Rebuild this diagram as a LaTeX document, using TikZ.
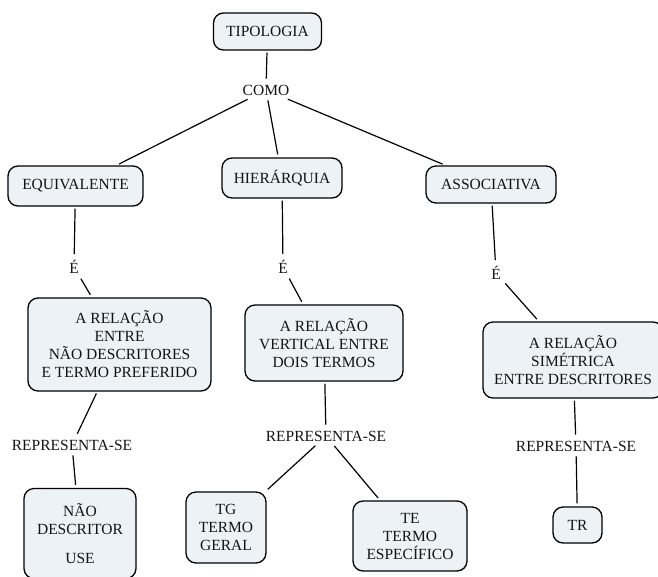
\documentclass[tikz,border=0pt]{standalone}
\usepackage{fontspec}
\setmainfont{Liberation Serif}
\definecolor{boxfill}{RGB}{236,242,246}
\definecolor{ink}{RGB}{20,20,20}
\begin{document}
\begin{tikzpicture}[x=1pt,y=-1pt,
  concept/.style={draw=black, line width=1.3pt, rounded corners=10pt, fill=boxfill,
    text=ink, align=center, inner sep=0pt, font=\fontsize{15.5}{18}\selectfont},
  linkword/.style={text=ink, inner sep=3pt, font=\fontsize{15.5}{18}\selectfont},
  link/.style={line width=1.2pt, shorten <=2pt, shorten >=3pt}]
\clip (0,0) rectangle (658,576);
\fill[white] (0,0) rectangle (658,576);

% concepts
\node[concept, minimum width=108pt, minimum height=37pt] (tipo) at (267.5,31.5) {TIPOLOGIA};
\node[concept, minimum width=135pt, minimum height=40pt] (equiv) at (75.5,186) {EQUIVALENTE};
\node[concept, minimum width=120pt, minimum height=40pt] (hier) at (282,178) {HIERÁRQUIA};
\node[concept, minimum width=130pt, minimum height=37pt] (assoc) at (491,184.5) {ASSOCIATIVA};
\node[concept, minimum width=183pt, minimum height=93pt] (rel1) at (119.5,344.5)
  {A RELAÇÃO\\ENTRE\\NÃO DESCRITORES\\E TERMO PREFERIDO};
\node[concept, minimum width=158pt, minimum height=76pt] (rel2) at (324,343)
  {A RELAÇÃO\\VERTICAL ENTRE\\DOIS TERMOS};
\node[concept, minimum width=180pt, minimum height=76pt] (rel3) at (573,360)
  {A RELAÇÃO\\SIMÉTRICA\\ENTRE DESCRITORES};
\node[concept, minimum width=112pt, minimum height=90pt] (nd) at (80,533.5)
  {NÃO\\DESCRITOR\\[11pt]USE};
\node[concept, minimum width=80pt, minimum height=71pt] (tg) at (226,527.5)
  {TG\\TERMO\\GERAL};
\node[concept, minimum width=114pt, minimum height=70pt] (te) at (410,536)
  {TE\\TERMO\\ESPECÍFICO};
\node[concept, minimum width=49pt, minimum height=36pt] (tr) at (577.5,525) {TR};

% linking words
\node[linkword] (como) at (266,90) {COMO};
\node[linkword] (e1) at (74,267) {É};
\node[linkword] (e2) at (283,267) {É};
\node[linkword] (e3) at (496,273) {É};
\node[linkword] (rep1) at (72,445) {REPRESENTA-SE};
\node[linkword] (rep2) at (326,436) {REPRESENTA-SE};
\node[linkword] (rep3) at (576,446) {REPRESENTA-SE};

% connectors
\draw[link] (tipo) -- (como);
\draw[link] (como) -- (equiv);
\draw[link] (como) -- (hier);
\draw[link] (como) -- (assoc);
\draw[link] (equiv) -- (e1);
\draw[link] (e1) -- (rel1);
\draw[link] (hier) -- (e2);
\draw[link] (e2) -- (rel2);
\draw[link] (assoc) -- (e3);
\draw[link] (e3) -- (rel3);
\draw[link] (rel1) -- (rep1);
\draw[link] (rep1) -- (nd);
\draw[link] (rel2) -- (rep2);
\draw[link] (rep2) -- (tg);
\draw[link] (rep2) -- (te);
\draw[link] (rel3) -- (rep3);
\draw[link] (rep3) -- (tr);
\end{tikzpicture}
\end{document}
